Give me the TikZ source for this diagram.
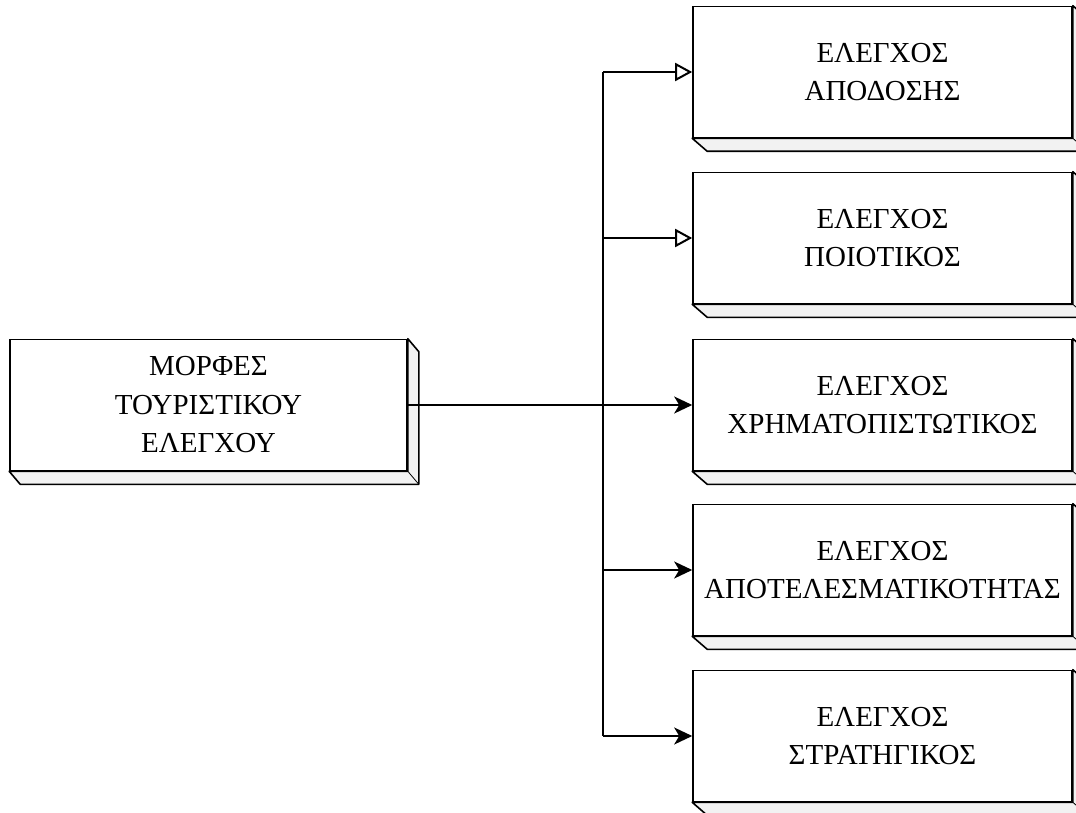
\documentclass[tikz,border=0pt]{standalone}
\usepackage{fontspec}
\setmainfont{Liberation Serif}
\usetikzlibrary{arrows.meta,calc}

\tikzset{
  face/.style={draw, line width=1.6pt, fill=white, rectangle, inner sep=0pt,
    align=center, font=\fontsize{29}{38.5}\selectfont},
  leftface/.style={face, minimum width=397pt, minimum height=131pt},
  rightface/.style={face, minimum width=379pt, minimum height=131pt},
  slab/.style={draw, line width=1.6pt, fill=black!5, line join=round},
  seam/.style={draw, line width=0.8pt},
  link/.style={line width=1.8pt},
  solidtip/.style={link, -{Stealth[length=18pt,width=17pt,inset=5pt]}},
  hollowtip/.style={link, -{Triangle[open,length=17pt,width=18pt,line width=2pt]}}
}

% 3-D slab behind a front face: side and bottom faces offset by (#2,#3)
\newcommand\slabof[3]{%
  \path[slab] (#1.north east) -- ++(#2,#3) -- ($(#1.south east)+(#2,#3)$)
    -- ($(#1.south west)+(#2,#3)$) -- (#1.south west) -- (#1.south east) -- cycle;
  \draw[seam] (#1.south east) -- ++(#2,#3);
}

\begin{document}
\begin{tikzpicture}[x=1pt, y=-1pt]
  \useasboundingbox (0,0) rectangle (1076,813);
  \clip (0,0) rectangle (1076,813);

  % front faces
  \node[leftface]  (forms) at (208.5,405) {ΜΟΡΦΕΣ\\ΤΟΥΡΙΣΤΙΚΟΥ\\ΕΛΕΓΧΟΥ};
  \node[rightface] (perf)  at (882.5,72)  {ΕΛΕΓΧΟΣ\\ΑΠΟΔΟΣΗΣ};
  \node[rightface] (qual)  at (882.5,238) {ΕΛΕΓΧΟΣ\\ΠΟΙΟΤΙΚΟΣ};
  \node[rightface] (fin)   at (882.5,405) {ΕΛΕΓΧΟΣ\\ΧΡΗΜΑΤΟΠΙΣΤΩΤΙΚΟΣ};
  \node[rightface] (eff)   at (882.5,570) {ΕΛΕΓΧΟΣ\\ΑΠΟΤΕΛΕΣΜΑΤΙΚΟΤΗΤΑΣ};
  \node[rightface] (strat) at (882.5,736) {ΕΛΕΓΧΟΣ\\ΣΤΡΑΤΗΓΙΚΟΣ};

  % depth of each slab
  \slabof{forms}{11}{13}
  \foreach \b in {perf,qual,fin,eff,strat} {\slabof{\b}{15}{13}}

  % branching connectors
  \coordinate (trunk) at (603,405);
  \draw[link] (perf.west -| trunk) -- (strat.west -| trunk);
  \draw[solidtip] (forms.east) -- (fin.west);
  \draw[hollowtip] (perf.west -| trunk) -- (perf.west);
  \draw[hollowtip] (qual.west -| trunk) -- (qual.west);
  \draw[solidtip] (eff.west -| trunk) -- (eff.west);
  \draw[solidtip] (strat.west -| trunk) -- (strat.west);
\end{tikzpicture}
\end{document}
